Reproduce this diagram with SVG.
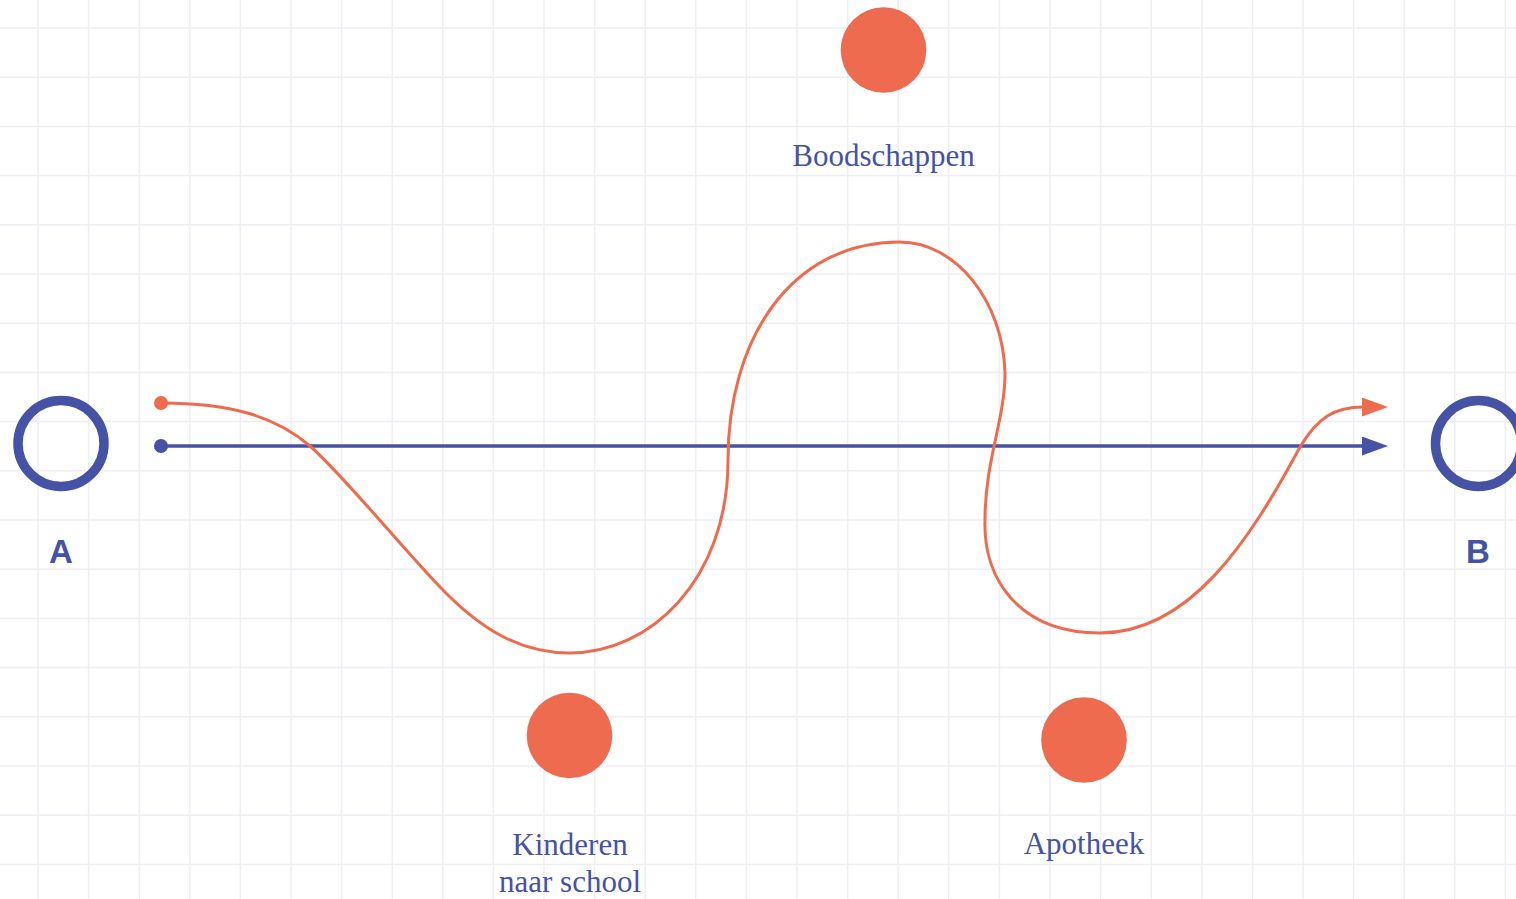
<svg xmlns="http://www.w3.org/2000/svg" width="1516" height="899" viewBox="0 0 1516 899">
<defs>
<style>
.grid{stroke:#eeeef5;stroke-width:1.5;fill:none}
.stop{fill:#ee6b4f}
.end{fill:none;stroke:#4652a6;stroke-width:9.5}
.letter{font-family:"Liberation Sans",Arial,sans-serif;font-weight:bold;font-size:33px;fill:#4652a6;text-anchor:middle}
.lbl{font-family:"Liberation Serif","Times New Roman",serif;font-size:31px;fill:#4652a6;text-anchor:middle}
.route{fill:none;stroke:#ee6b4f;stroke-width:3}
.direct{fill:none;stroke:#4652a6;stroke-width:3.5}
</style>
<marker id="arrO" viewBox="0 0 26 19" markerWidth="26" markerHeight="19" refX="1" refY="9.5" markerUnits="userSpaceOnUse" orient="auto">
<path d="M0,0 L26,9.5 L0,19 z" fill="#ee6b4f"/>
</marker>
<marker id="arrB" viewBox="0 0 26 19" markerWidth="26" markerHeight="19" refX="1" refY="9.5" markerUnits="userSpaceOnUse" orient="auto">
<path d="M0,0 L26,9.5 L0,19 z" fill="#4652a6"/>
</marker>
</defs>
<rect width="1516" height="899" fill="#ffffff"/>
<path class="grid" d="M38,0V899M88.6,0V899M139.2,0V899M189.8,0V899M240.4,0V899M291,0V899M341.6,0V899M392.2,0V899M442.8,0V899M493.4,0V899M544,0V899M594.6,0V899M645.2,0V899M695.8,0V899M746.4,0V899M797,0V899M847.6,0V899M898.2,0V899M948.8,0V899M999.4,0V899M1050,0V899M1100.6,0V899M1151.2,0V899M1201.8,0V899M1252.4,0V899M1303,0V899M1353.6,0V899M1404.2,0V899M1454.8,0V899M1505.4,0V899M0,28H1516M0,77.2H1516M0,126.4H1516M0,175.6H1516M0,224.8H1516M0,274H1516M0,323.2H1516M0,372.4H1516M0,421.6H1516M0,470.8H1516M0,520H1516M0,569.2H1516M0,618.4H1516M0,667.6H1516M0,716.8H1516M0,766H1516M0,815.2H1516M0,864.4H1516"/>
<g id="connectors">
<path class="direct" d="M161,446 H1363" marker-end="url(#arrB)"/>
<circle cx="161" cy="446" r="7" fill="#4652a6"/>
<path class="route" d="M161,403 C230,403 275,416 310,446 C340,472 400,545 440,587 C480,629 520,653 570,653 C650,653 728,580 728,460 C728,340 790,242 900,242 C955,242 1003,300 1005,373 C1005,420 985,460 985,520 C983,580 1020,633 1100,633 C1190,633 1250,540 1300,447 C1318,417 1335,407 1363,407" marker-end="url(#arrO)"/>
<circle cx="161" cy="403" r="7" fill="#ee6b4f"/>
</g>
<g id="nodeA">
<circle class="end" cx="61" cy="443.5" r="43"/>
<text class="letter" x="61" y="563">A</text>
</g>
<g id="nodeB">
<circle class="end" cx="1478.5" cy="443.5" r="43"/>
<text class="letter" x="1478" y="563">B</text>
</g>
<g id="boodschappen">
<circle class="stop" cx="883.5" cy="50" r="42.8"/>
<text class="lbl" x="883.5" y="166">Boodschappen</text>
</g>
<g id="kinderen">
<circle class="stop" cx="569.5" cy="735.5" r="42.8"/>
<text class="lbl" x="570" y="855">Kinderen</text>
<text class="lbl" x="570" y="892">naar school</text>
</g>
<g id="apotheek">
<circle class="stop" cx="1084" cy="740" r="42.8"/>
<text class="lbl" x="1084" y="854">Apotheek</text>
</g>
</svg>
